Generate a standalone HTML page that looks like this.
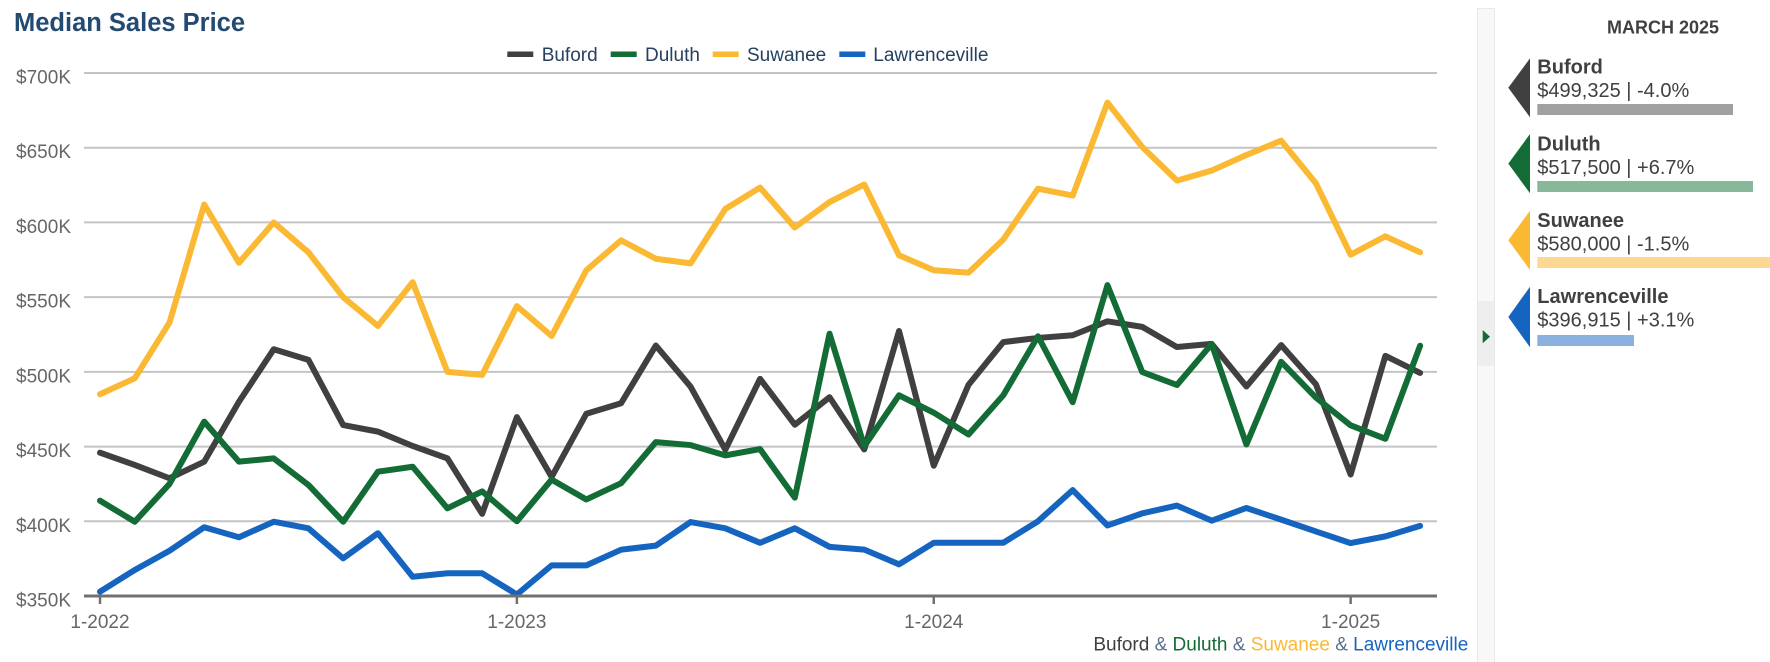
<!DOCTYPE html>
<html>
<head>
<meta charset="utf-8">
<style>
  html, body { margin:0; padding:0; background:#ffffff; }
  body { width:1770px; height:662px; overflow:hidden; position:relative; }
  svg { position:absolute; left:0; top:0; }
  text { font-family: "Liberation Sans", Arial, sans-serif; }
</style>
</head>
<body>
<svg width="1770" height="662" viewBox="0 0 1770 662" xmlns="http://www.w3.org/2000/svg">
  <!-- Title -->
  <text x="14" y="31" font-size="25.5" font-weight="bold" fill="#234a70">Median Sales Price</text>

  <!-- Legend -->
  <rect x="507.3" y="51.5" width="26" height="5.5" fill="#404040"/>
  <text x="541.7" y="61" font-size="19" fill="#26405f">Buford</text>
  <rect x="610.7" y="51.5" width="26" height="5.5" fill="#136c35"/>
  <text x="645" y="61" font-size="19" fill="#26405f">Duluth</text>
  <rect x="712.7" y="51.5" width="26" height="5.5" fill="#fbb933"/>
  <text x="747" y="61" font-size="19" fill="#26405f">Suwanee</text>
  <rect x="839.3" y="51.5" width="26" height="5.5" fill="#1565c0"/>
  <text x="873.3" y="61" font-size="19" fill="#26405f">Lawrenceville</text>

  <!-- Gridlines -->
  <g stroke="#c4c4c4" stroke-width="2">
    <line x1="84" y1="73" x2="1437" y2="73"/>
    <line x1="84" y1="147.7" x2="1437" y2="147.7"/>
    <line x1="84" y1="222.4" x2="1437" y2="222.4"/>
    <line x1="84" y1="297.1" x2="1437" y2="297.1"/>
    <line x1="84" y1="371.9" x2="1437" y2="371.9"/>
    <line x1="84" y1="446.6" x2="1437" y2="446.6"/>
    <line x1="84" y1="521.3" x2="1437" y2="521.3"/>
  </g>

  <!-- Y labels -->
  <g font-size="19" fill="#666666" text-anchor="end">
    <text x="71" y="83.5">$700K</text>
    <text x="71" y="158.2">$650K</text>
    <text x="71" y="232.9">$600K</text>
    <text x="71" y="307.6">$550K</text>
    <text x="71" y="382.4">$500K</text>
    <text x="71" y="457.1">$450K</text>
    <text x="71" y="531.8">$400K</text>
    <text x="71" y="606.5">$350K</text>
  </g>

  <!-- Series -->
  <g fill="none" stroke-width="6" stroke-linejoin="round" stroke-linecap="round" transform="matrix(1 0 0 -1.4943 0 1119)">
    <polyline vector-effect="non-scaling-stroke" stroke="#404040" points="100,445.9 134.74,437.7 169.48,428.8 204.22,439.9 238.96,480 273.7,515.1 308.44,508 343.18,464.4 377.92,460 412.66,450.4 447.4,442.1 482.14,405 516.88,469.7 551.62,429.7 586.36,472 621.1,479 655.84,517.6 690.58,490.1 725.32,447.9 760.06,495.3 794.8,464.6 829.54,483 864.28,448.1 899.02,527.3 933.76,437.2 968.5,491.3 1003.24,519.9 1037.98,522.7 1072.72,524.5 1107.46,533.8 1142.2,530.1 1176.94,516.6 1211.68,518.7 1246.42,490.2 1281.16,517.9 1315.9,491.7 1350.64,431.3 1385.38,510.7 1420.12,499.3"/>
    <polyline vector-effect="non-scaling-stroke" stroke="#136c35" points="100,413.8 134.74,399.7 169.48,425 204.22,466.7 238.96,439.9 273.7,442.1 308.44,424.3 343.18,399.7 377.92,433.2 412.66,436.5 447.4,408.7 482.14,420 516.88,400 551.62,427.9 586.36,414.6 621.1,425.5 655.84,453 690.58,451 725.32,444.1 760.06,448.3 794.8,415.8 829.54,525.5 864.28,450.2 899.02,484.3 933.76,472.7 968.5,458.1 1003.24,484.3 1037.98,523.8 1072.72,479.7 1107.46,558 1142.2,499.9 1176.94,491.2 1211.68,518.6 1246.42,451.4 1281.16,506.7 1315.9,482.8 1350.64,464.2 1385.38,455.2 1420.12,517.5"/>
    <polyline vector-effect="non-scaling-stroke" stroke="#fbb933" points="100,485 134.74,495.7 169.48,533 204.22,612 238.96,573 273.7,600 308.44,580 343.18,550 377.92,530.7 412.66,560 447.4,500 482.14,498 516.88,544 551.62,524 586.36,568 621.1,588 655.84,575.7 690.58,572.6 725.32,609 760.06,623.3 794.8,596.6 829.54,613.6 864.28,625.4 899.02,578 933.76,568 968.5,566.4 1003.24,588.5 1037.98,622.6 1072.72,618 1107.46,680.2 1142.2,650.5 1176.94,628 1211.68,634.7 1246.42,645.1 1281.16,654.7 1315.9,626.2 1350.64,578.4 1385.38,590.7 1420.12,580"/>
    <polyline vector-effect="non-scaling-stroke" stroke="#1565c0" points="100,352.9 134.74,367.4 169.48,380.3 204.22,396 238.96,389.3 273.7,399.7 308.44,395.3 343.18,375.2 377.92,392 412.66,362.9 447.4,365.2 482.14,365.2 516.88,351 551.62,370.5 586.36,370.5 621.1,381 655.84,383.7 690.58,399.5 725.32,395.3 760.06,385.6 794.8,395.3 829.54,382.9 864.28,381 899.02,371.2 933.76,385.6 968.5,385.6 1003.24,385.6 1037.98,400 1072.72,420.9 1107.46,397.2 1142.2,405.3 1176.94,410.5 1211.68,400.4 1246.42,408.9 1281.16,401.1 1315.9,393.2 1350.64,385.4 1385.38,389.9 1420.12,396.9"/>
  </g>

  <!-- X axis -->
  <line x1="84" y1="596" x2="1437" y2="596" stroke="#707070" stroke-width="3"/>
  <g stroke="#707070" stroke-width="2.5">
    <line x1="100" y1="596" x2="100" y2="604"/>
    <line x1="516.88" y1="596" x2="516.88" y2="604"/>
    <line x1="933.76" y1="596" x2="933.76" y2="604"/>
    <line x1="1350.64" y1="596" x2="1350.64" y2="604"/>
  </g>
  <g font-size="19" fill="#666666" text-anchor="middle">
    <text x="100" y="628">1-2022</text>
    <text x="516.88" y="628">1-2023</text>
    <text x="933.76" y="628">1-2024</text>
    <text x="1350.64" y="628">1-2025</text>
  </g>

  <!-- Footer -->
  <text x="1468.3" y="650.5" font-size="19" text-anchor="end"><tspan fill="#404040">Buford</tspan><tspan fill="#5b6f8c"> &amp; </tspan><tspan fill="#136c35">Duluth</tspan><tspan fill="#5b6f8c"> &amp; </tspan><tspan fill="#fbb933">Suwanee</tspan><tspan fill="#5b6f8c"> &amp; </tspan><tspan fill="#1565c0">Lawrenceville</tspan></text>

  <!-- Sidebar strip -->
  <rect x="1477.5" y="8.5" width="17" height="660" fill="#f8f8f8" stroke="#e9e9e9" stroke-width="1"/>
  <rect x="1478" y="301" width="16" height="65" fill="#eeeeee"/>
  <polygon points="1482.7,330 1490,336.7 1482.7,343.3" fill="#136c35"/>

  <!-- Panel -->
  <text x="1663" y="33.3" font-size="18" font-weight="bold" fill="#404040" text-anchor="middle">MARCH 2025</text>

  <polygon points="1530,58.3 1508.3,87.8 1530,117.3" fill="#404040"/>
  <text x="1537.3" y="73.5" font-size="20" font-weight="bold" fill="#404040">Buford</text>
  <text x="1537.3" y="97" font-size="20" fill="#404040">$499,325 | -4.0%</text>
  <rect x="1537.3" y="104" width="195.7" height="11" fill="#a0a0a0"/>

  <polygon points="1530,134 1508.3,163.6 1530,193.3" fill="#136c35"/>
  <text x="1537.3" y="150.5" font-size="20" font-weight="bold" fill="#404040">Duluth</text>
  <text x="1537.3" y="174" font-size="20" fill="#404040">$517,500 | +6.7%</text>
  <rect x="1537.3" y="181" width="215.7" height="11" fill="#89b799"/>

  <polygon points="1530,210.7 1508.3,240.3 1530,270" fill="#fbb933"/>
  <text x="1537.3" y="227" font-size="20" font-weight="bold" fill="#404040">Suwanee</text>
  <text x="1537.3" y="250.7" font-size="20" fill="#404040">$580,000 | -1.5%</text>
  <rect x="1537.3" y="257" width="240" height="11" fill="#fdd891"/>

  <polygon points="1530,286.7 1508.3,317 1530,347.3" fill="#1565c0"/>
  <text x="1537.3" y="303" font-size="20" font-weight="bold" fill="#404040">Lawrenceville</text>
  <text x="1537.3" y="326.7" font-size="20" fill="#404040">$396,915 | +3.1%</text>
  <rect x="1537.3" y="335" width="96.7" height="11" fill="#8ab0de"/>
</svg>
</body>
</html>
